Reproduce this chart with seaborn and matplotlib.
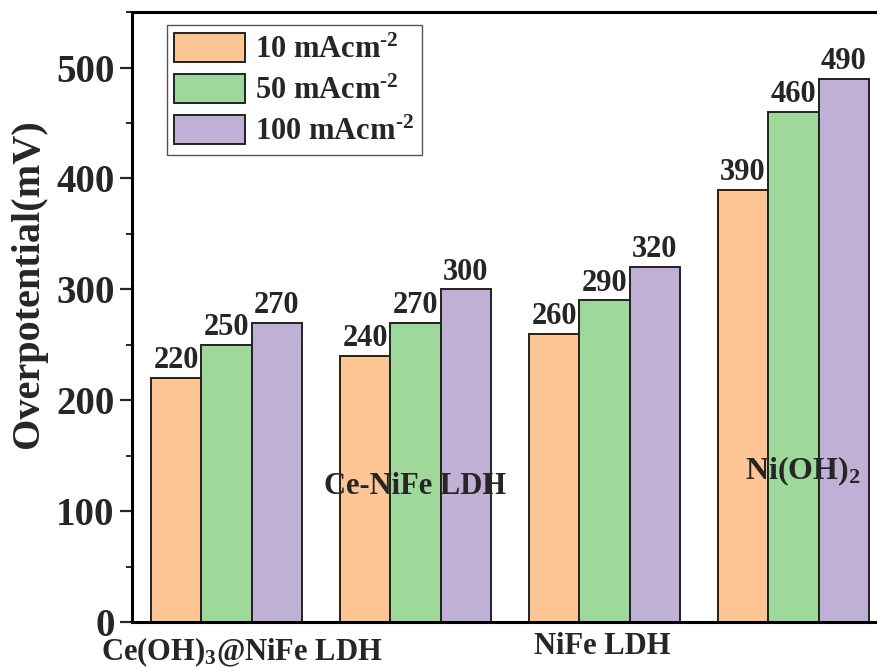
import matplotlib
matplotlib.use("Agg")
import matplotlib.pyplot as plt
from matplotlib.ticker import MultipleLocator
import pandas as pd
import seaborn as sns

# Overpotential (mV) of each catalyst at three current densities
catalysts = ["Ce(OH)3@NiFe LDH", "Ce-NiFe LDH", "NiFe LDH", "Ni(OH)2"]
densities = [r"10 mAcm$^{\text{-}2}$", r"50 mAcm$^{\text{-}2}$", r"100 mAcm$^{\text{-}2}$"]
eta_10 = [220, 240, 260, 390]
eta_50 = [250, 270, 290, 460]
eta_100 = [270, 300, 320, 490]

# Catalyst names as drawn, staggered above/below the axis
catalyst_labels = ["Ce(OH)$_3$@NiFe LDH", "Ce-NiFe LDH", "NiFe LDH", "Ni(OH)$_2$"]

sns.set_theme(style="ticks")
plt.rcParams["font.family"] = ["Liberation Serif", "DejaVu Serif"]
plt.rcParams["font.weight"] = "bold"
plt.rcParams["mathtext.fontset"] = "custom"
plt.rcParams["mathtext.rm"] = "Liberation Serif:bold"
plt.rcParams["mathtext.bf"] = "Liberation Serif:bold"
plt.rcParams["mathtext.it"] = "Liberation Serif:bold"
plt.rcParams["mathtext.default"] = "rm"

rows = []
for name, a, b, c in zip(catalysts, eta_10, eta_50, eta_100):
    for dens, v in zip(densities, (a, b, c)):
        rows.append({"catalyst": name, "density": dens, "eta": v})
df = pd.DataFrame(rows)

palette = ["#FCC593", "#9FD89B", "#C1B0D6"]

fig = plt.figure(figsize=(8.78, 6.70), dpi=100)
ax = fig.add_axes([0.1503, 0.0716, 0.861, 0.9104])

sns.barplot(data=df, x="catalyst", y="eta", hue="density", order=catalysts,
            hue_order=densities, palette=palette, errorbar=None,
            edgecolor="#222222", linewidth=1.4, width=0.8, saturation=1,
            ax=ax)

for cont in ax.containers:
    ax.bar_label(cont, fmt="%d", padding=2, fontsize=22, fontweight="bold")

ax.set_xlim(-0.5, 3.5)
ax.set_ylim(0, 550)
ax.yaxis.set_major_locator(MultipleLocator(100))
ax.yaxis.set_minor_locator(MultipleLocator(50))
ax.set_xticks([])
ax.set_xlabel("")
ax.set_ylabel("Overpotential(mV)", fontsize=29, fontweight="bold")
ax.yaxis.set_label_coords(-0.112, 0.555)

for lab in ax.get_yticklabels():
    lab.set_fontweight("bold")
ax.tick_params(axis="y", which="major", length=8.5, width=1.6,
               labelsize=28, pad=4, direction="out")
ax.tick_params(axis="y", which="minor", length=4.3, width=1.4, direction="out")

for side in ("left", "top", "bottom", "right"):
    ax.spines[side].set_linewidth(2.2)
    ax.spines[side].set_color("black")

# Category names: first and third below the axis, second and fourth inside
label_y = [-27, 122, -22, 136]
label_dx = [0.08, 0.0, -0.01, 0.05]
label_size = [22, 22, 22, 23]
for i, (txt, yy, dx, fs) in enumerate(zip(catalyst_labels, label_y, label_dx, label_size)):
    ax.text(i + dx, yy, txt, ha="center", va="center", fontsize=fs,
            fontweight="bold", clip_on=False)

handles, labels = ax.get_legend_handles_labels()
leg = ax.legend(handles, labels, loc="upper left",
                bbox_to_anchor=(0.046, 0.979), borderaxespad=0,
                prop={"weight": "bold", "size": 22},
                handlelength=2.3, handleheight=1.1, handletextpad=0.35,
                labelspacing=0.3, borderpad=0.25, fancybox=False,
                frameon=True, edgecolor="#555555", framealpha=1)
leg.get_frame().set_linewidth(1.0)

fig.savefig("out.png", dpi=100)
